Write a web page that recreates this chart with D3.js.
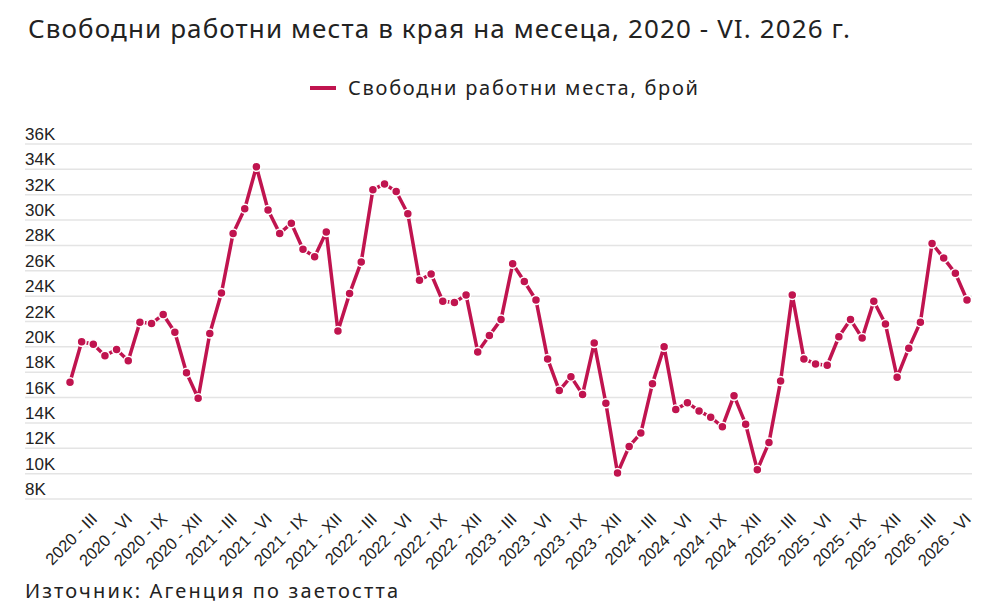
<!DOCTYPE html>
<html>
<head>
<meta charset="utf-8">
<script src="https://cdn.jsdelivr.net/npm/d3@7"></script>
<style>
    body { margin: 0; background: #fff; }
    svg { display: block; }
</style>
</head>
<body>
<div id="chart"></div>
<script>
// monthly values, Jan 2020 - Jun 2026
var years = [2020, 2021, 2022, 2023, 2024, 2025, 2026];
var romanMonths = ['I', 'II', 'III', 'IV', 'V', 'VI', 'VII', 'VIII', 'IX', 'X', 'XI', 'XII'];
var vacancies = [
    17200, 20400, 20200, 19300, 19800, 18900, 21950, 21850, 22550, 21150, 17950, 15950,
    21050, 24250, 28950, 30900, 34200, 30800, 28950, 29750, 27700, 27100, 29050, 21250,
    24200, 26700, 32400, 32850, 32250, 30500, 25250, 25750, 23600, 23500, 24100, 19600,
    20900, 22150, 26550, 25150, 23700, 19050, 16550, 17650, 16250, 20300, 15550, 10050,
    12150, 13200, 17100, 20000, 15050, 15600, 14950, 14450, 13700, 16150, 13900, 10300,
    12450, 17300, 24100, 19050, 18650, 18550, 20800, 22150, 20700, 23600, 21800, 17600,
    19900, 21950, 28150, 27000, 25800, 23700
];
var yTicks = [8000, 10000, 12000, 14000, 16000, 18000, 20000, 22000, 24000, 26000, 28000, 30000, 32000, 34000, 36000];

var titleText = 'Свободни работни места в края на месеца, 2020 - VI. 2026 г.';
var legendText = 'Свободни работни места, брой';
var sourceText = 'Източник: Агенция по заетостта';

var lineColor = '#c0144f';
var width = 996, height = 615;

var categories = [];
years.forEach(function (y) {
    romanMonths.forEach(function (m) { categories.push(y + ' - ' + m); });
});
categories = categories.slice(0, vacancies.length);
var data = categories.map(function (c, i) { return {label: c, value: vacancies[i], month: i % 12}; });

var svg = d3.select('#chart').append('svg')
    .attr('width', width)
    .attr('height', height);

var x = d3.scalePoint().domain(categories).range([70, 967]);
var y = d3.scaleLinear().domain([8000, 36000]).range([499, 144]);

// title + legend
svg.append('text')
    .attr('x', 28).attr('y', 38)
    .attr('font-family', 'Noto Sans, sans-serif')
    .attr('font-size', 26)
    .attr('fill', '#222')
    .attr('textLength', 822)
    .attr('lengthAdjust', 'spacing')
    .text(titleText);

svg.append('line')
    .attr('x1', 310).attr('x2', 336)
    .attr('y1', 88).attr('y2', 88)
    .attr('stroke', lineColor)
    .attr('stroke-width', 4);

svg.append('text')
    .attr('x', 348).attr('y', 95)
    .attr('font-family', 'Noto Sans, sans-serif')
    .attr('font-size', 20)
    .attr('fill', '#222')
    .attr('textLength', 350)
    .attr('lengthAdjust', 'spacing')
    .text(legendText);

// grid + y labels
var grid = svg.append('g');
grid.selectAll('line')
    .data(yTicks)
    .enter()
    .append('line')
    .attr('x1', 25).attr('x2', 972)
    .attr('y1', function (d) { return y(d); })
    .attr('y2', function (d) { return y(d); })
    .attr('stroke', '#e4e4e4')
    .attr('stroke-width', 1.5);

grid.selectAll('text')
    .data(yTicks)
    .enter()
    .append('text')
    .attr('x', 25)
    .attr('y', function (d) { return y(d) - 4; })
    .attr('font-family', 'Liberation Sans, Arial, sans-serif')
    .attr('font-size', 17)
    .attr('fill', '#222')
    .text(function (d) { return d3.format('d')(d / 1000) + 'K'; });

// x labels, every 3rd month
var xLabels = svg.append('g');
xLabels.selectAll('text')
    .data(data.filter(function (d) { return d.month % 3 === 2; }))
    .enter()
    .append('text')
    .attr('transform', function (d) { return 'translate(' + (x(d.label) + 5) + ',520) rotate(-45)'; })
    .attr('text-anchor', 'end')
    .attr('font-family', 'Liberation Sans, Arial, sans-serif')
    .attr('font-size', 16.5)
    .attr('fill', '#222')
    .text(function (d) { return d.label; });

// series
var line = d3.line()
    .x(function (d) { return x(d.label); })
    .y(function (d) { return y(d.value); });

svg.append('path')
    .datum(data)
    .attr('d', line)
    .attr('fill', 'none')
    .attr('stroke', lineColor)
    .attr('stroke-width', 3.5)
    .attr('stroke-linejoin', 'round');

svg.append('g').selectAll('circle')
    .data(data)
    .enter()
    .append('circle')
    .attr('cx', function (d) { return x(d.label); })
    .attr('cy', function (d) { return y(d.value); })
    .attr('r', 4.5)
    .attr('fill', lineColor)
    .attr('stroke', '#fff')
    .attr('stroke-width', 1.5);

svg.append('text')
    .attr('x', 25).attr('y', 598)
    .attr('font-family', 'Noto Sans, sans-serif')
    .attr('font-size', 20)
    .attr('fill', '#222')
    .attr('textLength', 373)
    .attr('lengthAdjust', 'spacing')
    .text(sourceText);
</script>
</body>
</html>
